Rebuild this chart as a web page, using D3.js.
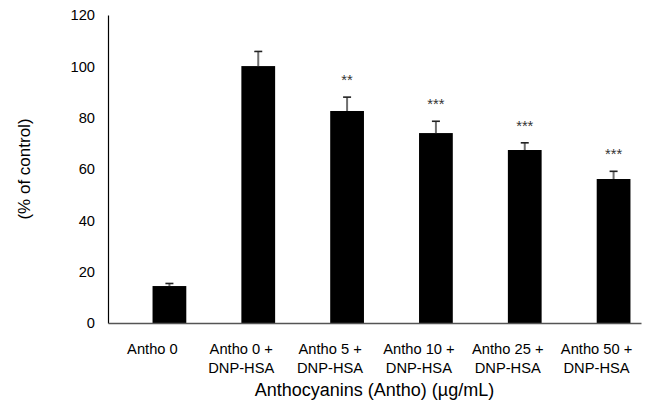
<!DOCTYPE html>
<html>
<head>
<meta charset="utf-8">
<script src="https://cdn.jsdelivr.net/npm/d3@7"></script>
<style>
  html, body { margin: 0; padding: 0; background: #fff; }
  svg { display: block; font-family: "Liberation Sans", Arial, sans-serif; }
</style>
</head>
<body>
<svg id="chart" width="647" height="406"></svg>
<script>
// ---- data ----
const categories = [
  ["Antho 0"],
  ["Antho 0 +", "DNP-HSA"],
  ["Antho 5 +", "DNP-HSA"],
  ["Antho 10 +", "DNP-HSA"],
  ["Antho 25 +", "DNP-HSA"],
  ["Antho 50 +", "DNP-HSA"]
];
const values = [14.4, 100.1, 82.6, 74.0, 67.4, 56.1];
const errors = [1.0, 5.7, 5.4, 4.6, 2.8, 3.0];
const significance = ["", "", "**", "***", "***", "***"];
const yTicks = [0, 20, 40, 60, 80, 100, 120];
const xTitle = "Anthocyanins (Antho) (µg/mL)";
const yTitle = "(% of control)";

(function () {
// ---- layout ----
const svg = d3.select("#chart");
const mLeft = 108, mRight = 641, mTop = 15, mBottom = 323;
const barShift = 17;
const fontSize = 14.7;

const idx = categories.map((d, i) => i);
const x = d3.scaleBand().domain(idx).range([mLeft, mRight]).paddingInner(0).paddingOuter(0);
const xBar = d3.scaleBand().domain(idx).range([mLeft + barShift, mRight + barShift]).paddingInner(0.62).paddingOuter(0.31);
const y = d3.scaleLinear().domain([0, 120]).range([mBottom, mTop]);

// y axis
const yAxis = d3.axisLeft(y).tickValues(yTicks).tickSize(0).tickPadding(13);
const gy = svg.append("g").attr("transform", `translate(${mLeft},0)`).call(yAxis);
gy.select(".domain").attr("stroke", "#000").attr("stroke-width", 1.2);
gy.selectAll("text").attr("font-size", fontSize).attr("fill", "#000")
  .attr("font-family", '"Liberation Sans", Arial, sans-serif');

// bars
svg.append("g").selectAll("rect").data(values).join("rect")
  .attr("x", (d, i) => xBar(i))
  .attr("width", xBar.bandwidth())
  .attr("y", d => y(d))
  .attr("height", d => y(0) - y(d))
  .attr("fill", "#000");

// error bars
const eg = svg.append("g");
values.forEach((v, i) => {
  const cx = xBar(i) + xBar.bandwidth() / 2;
  eg.append("line").attr("x1", cx).attr("x2", cx)
    .attr("y1", y(v)).attr("y2", y(v + errors[i]))
    .attr("stroke", "#6e6e6e").attr("stroke-width", 2);
  eg.append("line").attr("x1", cx - 4).attr("x2", cx + 4)
    .attr("y1", y(v + errors[i])).attr("y2", y(v + errors[i]))
    .attr("stroke", "#222").attr("stroke-width", 1.6);
  if (significance[i]) {
    eg.append("text").attr("x", cx).attr("y", y(v + errors[i]) - 12)
      .attr("text-anchor", "middle").attr("font-size", fontSize)
      .attr("fill", "#333").text(significance[i]);
  }
});

// x axis
const xAxis = d3.axisBottom(x).tickSize(0).tickFormat("");
const gx = svg.append("g").attr("transform", `translate(0,${mBottom})`).call(xAxis);
gx.select(".domain").attr("stroke", "#555").attr("stroke-width", 1.4);

// x labels
const xl = svg.append("g");
categories.forEach((lines, i) => {
  const cx = x(i) + x.bandwidth() / 2;
  const t = xl.append("text").attr("x", cx).attr("y", 353.5)
    .attr("text-anchor", "middle").attr("font-size", fontSize).attr("fill", "#000");
  lines.forEach((s, j) => {
    t.append("tspan").attr("x", cx).attr("dy", j === 0 ? 0 : 19).text(s);
  });
});

// titles
svg.append("text").attr("x", (mLeft + mRight) / 2).attr("y", 396)
  .attr("text-anchor", "middle").attr("font-size", 18).attr("fill", "#000").text(xTitle);
svg.append("text").attr("transform", `translate(30,${(mTop + mBottom) / 2}) rotate(-90)`)
  .attr("text-anchor", "middle").attr("font-size", 17).attr("fill", "#000").text(yTitle);
})();
</script>
</body>
</html>
